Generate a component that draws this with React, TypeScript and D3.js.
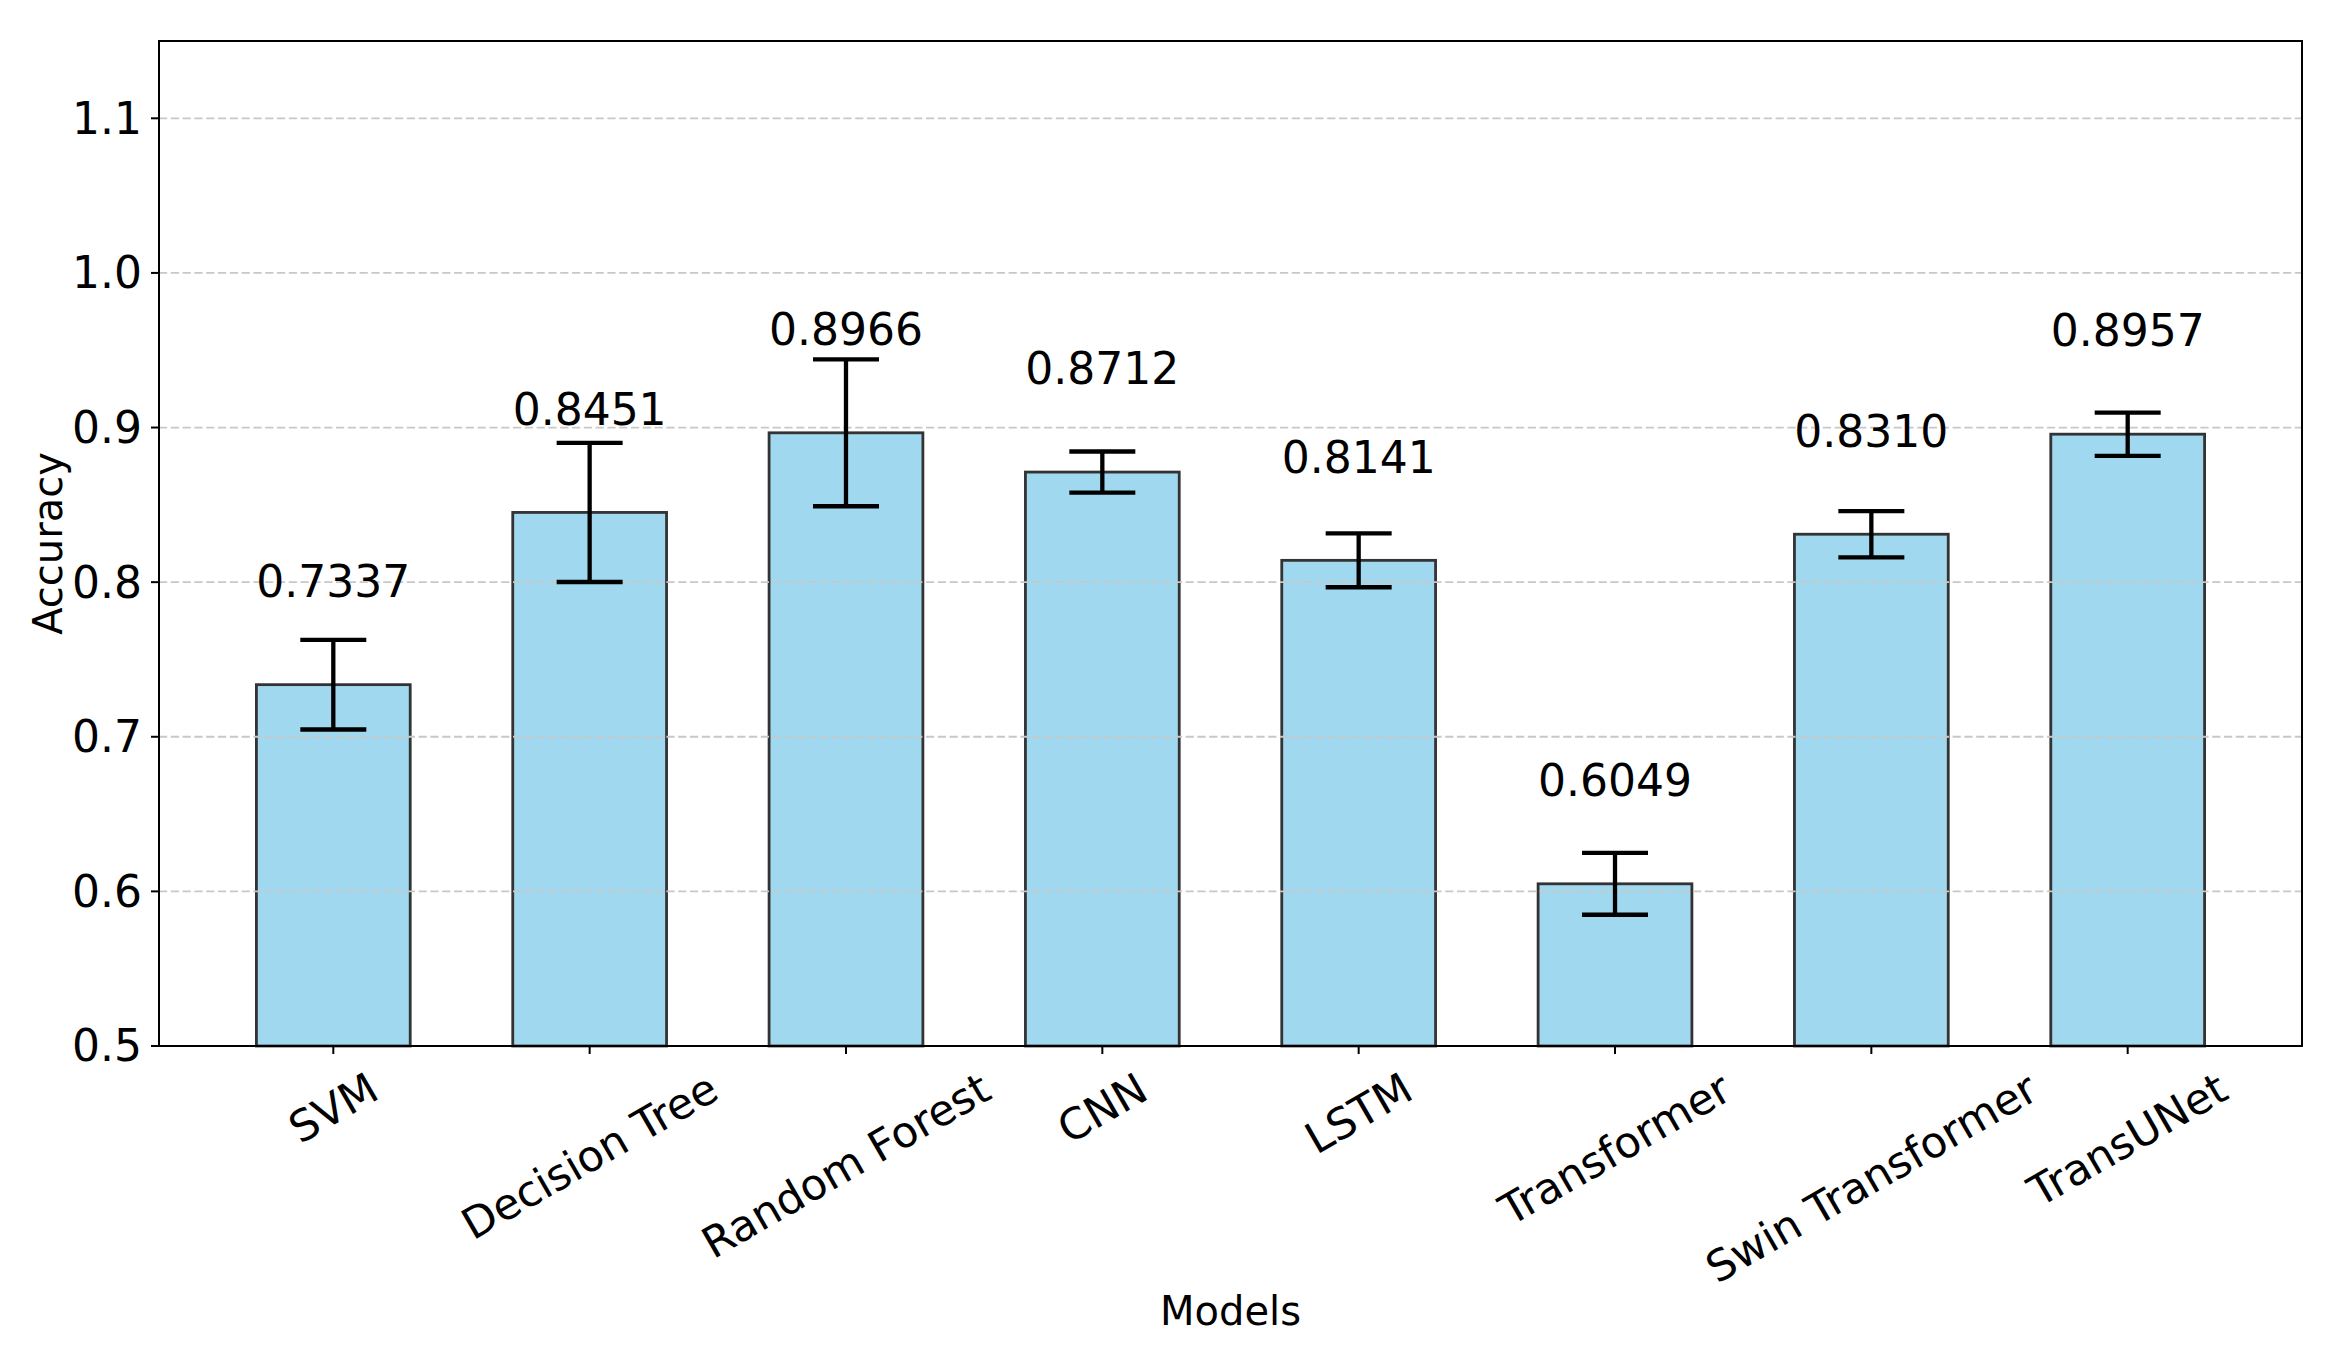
import { useEffect, useRef } from "react";
import * as d3 from "d3";

const models = [
  "SVM",
  "Decision Tree",
  "Random Forest",
  "CNN",
  "LSTM",
  "Transformer",
  "Swin Transformer",
  "TransUNet",
];
const accuracy = [0.7337, 0.8451, 0.8966, 0.8712, 0.8141, 0.6049, 0.831, 0.8957];
const errors = [0.029, 0.045, 0.0475, 0.0133, 0.0174, 0.02, 0.015, 0.014];
const yTicks = [0.5, 0.6, 0.7, 0.8, 0.9, 1.0, 1.1];

const W = 2335;
const H = 1350;
const FONT = "DejaVu Sans, sans-serif";

function App() {
  const svgRef = useRef<SVGSVGElement | null>(null);

  useEffect(() => {
    if (!svgRef.current) return;
    const svg = d3.select(svgRef.current);
    svg.selectAll("*").remove();

    const left = 159;
    const right = 2302;
    const top = 41;
    const bottom = 1046;

    // numeric x like matplotlib: bars at 0..7, width 0.6, 5% margins
    const x = d3.scaleLinear().domain([-0.68, 7.68]).range([left, right]);
    const y = d3.scaleLinear().domain([0.5, 1.15]).range([bottom, top]);
    const bw = x(0.6) - x(0);

    // bars
    svg
      .append("g")
      .selectAll("rect")
      .data(accuracy)
      .enter()
      .append("rect")
      .attr("x", (_, i) => x(i) - bw / 2)
      .attr("y", (d) => y(d))
      .attr("width", bw)
      .attr("height", (d) => y(0.5) - y(d))
      .attr("fill", "#9fd8ef")
      .attr("stroke", "#333333")
      .attr("stroke-width", 2.8);

    // grid (drawn over bars like matplotlib's default)
    svg
      .append("g")
      .selectAll("line")
      .data(yTicks)
      .enter()
      .append("line")
      .attr("x1", left)
      .attr("x2", right)
      .attr("y1", (d) => y(d))
      .attr("y2", (d) => y(d))
      .attr("stroke", "#c8c8c8")
      .attr("stroke-width", 1.8)
      .attr("stroke-dasharray", "8.2,3.6");

    // error bars
    const eb = svg.append("g").attr("stroke", "#000").attr("stroke-width", 4.3);
    accuracy.forEach((v, i) => {
      const cx = x(i);
      const hi = y(v + errors[i]);
      const lo = y(v - errors[i]);
      eb.append("line").attr("x1", cx).attr("x2", cx).attr("y1", hi).attr("y2", lo);
      eb.append("line").attr("x1", cx - 33).attr("x2", cx + 33).attr("y1", hi).attr("y2", hi);
      eb.append("line").attr("x1", cx - 33).attr("x2", cx + 33).attr("y1", lo).attr("y2", lo);
    });

    // value labels
    svg
      .append("g")
      .selectAll("text")
      .data(accuracy)
      .enter()
      .append("text")
      .attr("x", (_, i) => x(i))
      .attr("y", (d) => y(d + 0.05) - 10.4)
      .attr("text-anchor", "middle")
      .attr("font-family", FONT)
      .attr("font-size", 44)
      .attr("fill", "#000")
      .text((d) => d.toFixed(4));

    // frame
    svg
      .append("rect")
      .attr("x", left)
      .attr("y", top)
      .attr("width", right - left)
      .attr("height", bottom - top)
      .attr("fill", "none")
      .attr("stroke", "#000")
      .attr("stroke-width", 2);

    // y axis ticks
    const yAxis = svg.append("g");
    yTicks.forEach((t) => {
      yAxis
        .append("line")
        .attr("x1", left - 8)
        .attr("x2", left)
        .attr("y1", y(t))
        .attr("y2", y(t))
        .attr("stroke", "#000")
        .attr("stroke-width", 2);
      yAxis
        .append("text")
        .attr("x", left - 17)
        .attr("y", y(t))
        .attr("dy", "0.35em")
        .attr("text-anchor", "end")
        .attr("font-family", FONT)
        .attr("font-size", 44)
        .text(t.toFixed(1));
    });

    // x axis ticks with rotated labels, bbox centred under the tick
    const xAxis = svg.append("g");
    const fs = 43;
    const rad = (30 * Math.PI) / 180;
    models.forEach((m, i) => {
      const cx = x(i);
      xAxis
        .append("line")
        .attr("x1", cx)
        .attr("x2", cx)
        .attr("y1", bottom)
        .attr("y2", bottom + 8)
        .attr("stroke", "#000")
        .attr("stroke-width", 2);
      const t = xAxis
        .append("text")
        .attr("text-anchor", "middle")
        .attr("font-family", FONT)
        .attr("font-size", fs)
        .attr("dy", "0.346em")
        .text(m);
      const w = (t.node() as SVGTextElement).getComputedTextLength();
      const h = fs * 1.164;
      const boxH = w * Math.sin(rad) + h * Math.cos(rad);
      const cy = bottom + 17 + boxH / 2;
      t.attr("transform", `translate(${cx},${cy}) rotate(-30)`);
    });

    // axis titles
    svg
      .append("text")
      .attr("x", (left + right) / 2)
      .attr("y", 1325)
      .attr("text-anchor", "middle")
      .attr("font-family", FONT)
      .attr("font-size", 40)
      .text("Models");

    svg
      .append("text")
      .attr("transform", `translate(62,${(top + bottom) / 2}) rotate(-90)`)
      .attr("text-anchor", "middle")
      .attr("font-family", FONT)
      .attr("font-size", 40)
      .text("Accuracy");
  }, []);

  return (
    <svg
      ref={svgRef}
      width={W}
      height={H}
      style={{ position: "absolute", left: 0, top: 0, background: "#fff" }}
    />
  );
}

export default App;
